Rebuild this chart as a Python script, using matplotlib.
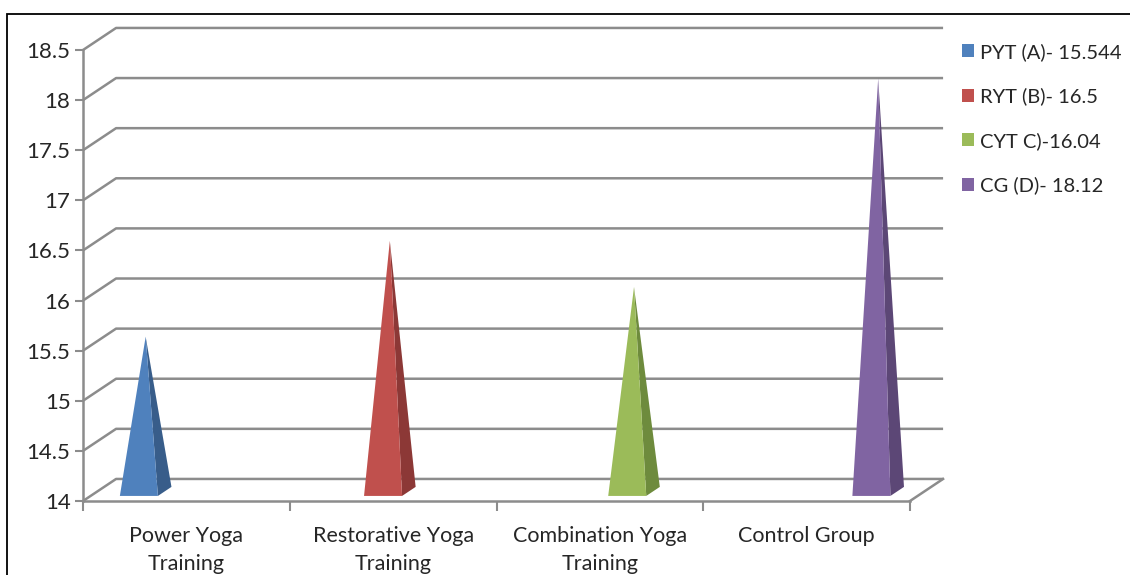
import matplotlib
matplotlib.use("Agg")
import matplotlib.pyplot as plt
from matplotlib.patches import Rectangle
from matplotlib.ticker import FixedLocator, FuncFormatter

plt.rcParams["font.family"] = ["Lato", "DejaVu Sans"]

categories = ["Power Yoga\nTraining", "Restorative Yoga\nTraining",
              "Combination Yoga\nTraining", "Control Group"]
series_labels = ["PYT (A)- 15.544", "RYT (B)- 16.5", "CYT C)-16.04", "CG (D)- 18.12"]
values = [15.544, 16.5, 16.04, 18.12]
front_colors = ["#4F81BD", "#C0504D", "#9BBB59", "#8064A2"]
side_colors = ["#385D8A", "#8C3836", "#6E8B3D", "#5C4776"]
y_ticks = [14, 14.5, 15, 15.5, 16, 16.5, 17, 17.5, 18, 18.5]

Y_MIN, Y_MAX = 14, 18.5
DX, DY = 0.16, 0.22        # depth offset of the back wall (x in categories, y in values)
SLOT, HALF = 0.181, 0.092  # slot width per series, half width of a pyramid base
Z0, Z1 = 0.23, 0.64        # front / back depth of pyramid bases
GRID = "#8c8c8c"
TEXT = "#262626"

fig = plt.figure(figsize=(11.3, 5.75), dpi=100)
ax = fig.add_axes([83 / 1130, 74 / 575, 827 / 1130, 451 / 575])
ax.set_xlim(-0.5, len(categories) - 0.5)
ax.set_ylim(Y_MIN, Y_MAX)

# back wall gridlines with the slanted side wall
x_left, x_right = -0.5, len(categories) - 0.5
for v in y_ticks:
    ax.plot([x_left, x_left + DX, x_right + DX], [v, v + DY, v + DY],
            color=GRID, lw=1.8, clip_on=False, zorder=1, solid_capstyle="butt")
ax.plot([x_right, x_right + DX], [Y_MIN, Y_MIN + DY], color=GRID, lw=1.8,
        clip_on=False, zorder=1)

# pyramids: series i sits in category i
n = len(values)
for i, (v, fc, sc) in enumerate(zip(values, front_colors, side_colors)):
    xc = i + (i - (n - 1) / 2) * SLOT + 0.005
    zm = (Z0 + Z1) / 2
    fl = (xc - HALF + Z0 * DX, Y_MIN + Z0 * DY)
    fr = (xc + HALF + Z0 * DX, Y_MIN + Z0 * DY)
    br = (xc + HALF + Z1 * DX, Y_MIN + Z1 * DY)
    apex = (xc + zm * DX, v + zm * DY)
    ax.fill([fr[0], br[0], apex[0]], [fr[1], br[1], apex[1]], color=sc,
            lw=0, clip_on=False, zorder=3)
    ax.fill([fl[0], fr[0], apex[0]], [fl[1], fr[1], apex[1]], color=fc,
            lw=0, clip_on=False, zorder=4, label=series_labels[i])

for s in ["top", "right"]:
    ax.spines[s].set_visible(False)
for s in ["left", "bottom"]:
    ax.spines[s].set_color(GRID)
    ax.spines[s].set_linewidth(1.8)

ax.yaxis.set_major_locator(FixedLocator(y_ticks))
ax.yaxis.set_major_formatter(FuncFormatter(lambda v, p: f"{v:g}"))
ax.tick_params(axis="y", direction="out", length=6, width=1.5, color=GRID,
               labelsize=16, labelcolor=TEXT, pad=3)

ax.xaxis.set_major_locator(FixedLocator([k - 0.5 for k in range(n + 1)]))
ax.xaxis.set_major_formatter(FuncFormatter(lambda v, p: ""))
ax.xaxis.set_minor_locator(FixedLocator(range(n)))
ax.set_xticklabels(categories, minor=True)
ax.tick_params(axis="x", which="major", direction="out", length=7, width=1.5, color=GRID)
ax.tick_params(axis="x", which="minor", length=0, labelsize=15.5,
               labelcolor=TEXT, pad=18)
for t in ax.xaxis.get_minorticklabels():
    t.set_linespacing(1.5)

leg = ax.legend(loc="upper left", bbox_to_anchor=(952 / 1130, 1 - 33 / 575),
                bbox_transform=fig.transFigure, frameon=False, fontsize=14.5,
                handlelength=0.6, handleheight=0.6, handletextpad=0.3,
                labelspacing=1.32, borderpad=0)
for t in leg.get_texts():
    t.set_color(TEXT)

fig.add_artist(Rectangle((7 / 1130, -0.1), 1.2, 1.1 - 14 / 575, transform=fig.transFigure,
                         fill=False, ec="black", lw=1.3))

fig.savefig("out.png", dpi=100)
